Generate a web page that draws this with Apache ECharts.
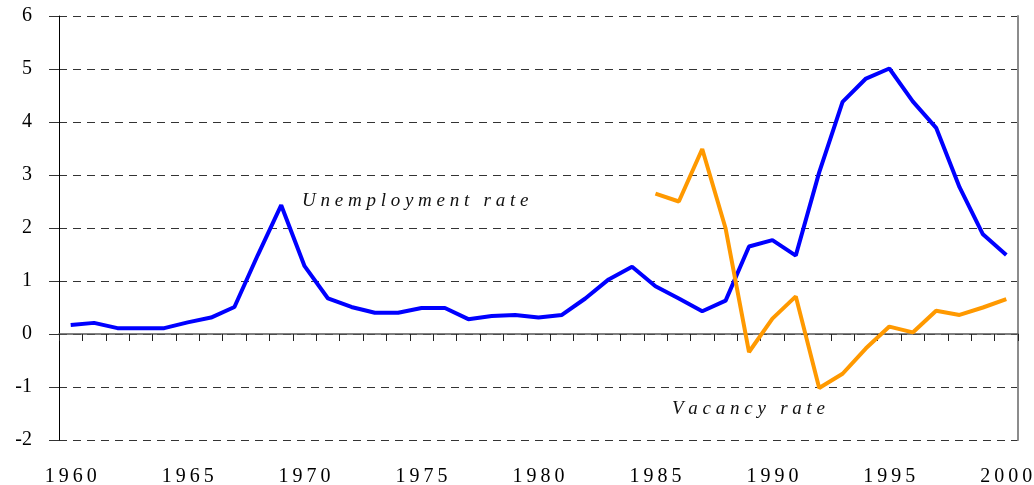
<!DOCTYPE html>
<html>
<head>
<meta charset="utf-8">
<script src="https://cdn.jsdelivr.net/npm/echarts/dist/echarts.min.js"></script>
<style>
  html, body { margin: 0; padding: 0; background: #fff; }
  #chart { width: 1034px; height: 485px; }
</style>
</head>
<body>
<div id="chart"></div>
<script>
// years on the x axis
var years = [];
for (var y = 1960; y <= 2000; y++) years.push(String(y));

// unemployment rate 1960-2000
var unemployment = [0.17, 0.21, 0.11, 0.11, 0.11, 0.22, 0.31, 0.51, 1.49, 2.43,
  1.28, 0.67, 0.51, 0.40, 0.40, 0.49, 0.49, 0.28, 0.34, 0.36,
  0.31, 0.36, 0.67, 1.03, 1.27, 0.90, 0.67, 0.43, 0.63, 1.65,
  1.77, 1.48, 3.05, 4.38, 4.82, 5.01, 4.39, 3.89, 2.77, 1.88, 1.49];

// vacancy rate, only from 1985
var vacancyStart = 1985;
var vacancyValues = [2.65, 2.50, 3.49, 1.99, -0.34, 0.29, 0.71, -1.02,
  -0.75, -0.27, 0.14, 0.03, 0.44, 0.36, 0.50, 0.66];

var vacancy = years.map(function (yr) {
  var i = Number(yr) - vacancyStart;
  return i >= 0 ? vacancyValues[i] : null;
});

var FONT = '"Liberation Serif", "Times New Roman", serif';

function spaced(s, sep) {
  return s.split('').join(sep);
}

var chart = echarts.init(document.getElementById('chart'));
chart.setOption({
  animation: false,
  backgroundColor: '#fff',
  grid: { left: 59, right: 16, top: 16, bottom: 45, containLabel: false, outerBoundsMode: 'none' },
  xAxis: [
    {
      // zero line with the year ticks
      type: 'category',
      data: years,
      position: 'bottom',
      boundaryGap: true,
      axisLine: { onZero: true, lineStyle: { color: '#555', width: 1.5 } },
      axisTick: { show: true, interval: 0, length: 7, lineStyle: { color: '#222' } },
      axisLabel: { show: false },
      splitLine: { show: false }
    },
    {
      // year labels along the bottom
      type: 'category',
      data: years,
      position: 'bottom',
      boundaryGap: true,
      axisLine: { show: false, onZero: false },
      axisTick: { show: false },
      axisLabel: {
        interval: 4,
        margin: 27,
        fontFamily: FONT,
        fontSize: 20,
        color: '#000',
        formatter: function (v) { return spaced(v, '\u2009'); }
      },
      splitLine: { show: false }
    }
  ],
  yAxis: [
    {
      type: 'value',
      min: -2,
      max: 6,
      interval: 1,
      axisLine: { show: true, lineStyle: { color: '#000', width: 1 } },
      axisTick: { show: true, length: 10, lineStyle: { color: '#333' } },
      axisLabel: { margin: 27, fontFamily: FONT, fontSize: 20, color: '#000' },
      splitLine: { show: true, lineStyle: { color: '#333', type: [8, 6], width: 1 } }
    },
    {
      // right border of the plot
      type: 'value',
      show: true,
      min: -2,
      max: 6,
      interval: 1,
      position: 'right',
      offset: 0,
      axisLine: { show: true, onZero: false, lineStyle: { color: '#8c8c8c', width: 2 } },
      axisTick: { show: false },
      axisLabel: { show: false },
      splitLine: { show: false }
    }
  ],
  graphic: [
    {
      type: 'text',
      left: 302,
      top: 191,
      style: {
        text: spaced('Unemployment rate', ' '),
        font: 'italic 19px ' + FONT,
        fill: '#111'
      }
    },
    {
      type: 'text',
      left: 672,
      top: 399,
      style: {
        text: spaced('Vacancy rate', ' '),
        font: 'italic 19px ' + FONT,
        fill: '#111'
      }
    }
  ],
  series: [
    {
      name: 'Unemployment rate',
      type: 'line',
      data: unemployment,
      symbol: 'none',
      lineStyle: { color: '#0000ff', width: 4 },
      z: 3
    },
    {
      name: 'Vacancy rate',
      type: 'line',
      data: vacancy,
      symbol: 'none',
      connectNulls: false,
      lineStyle: { color: '#ff9900', width: 4 },
      z: 4
    }
  ]
});
</script>
</body>
</html>
